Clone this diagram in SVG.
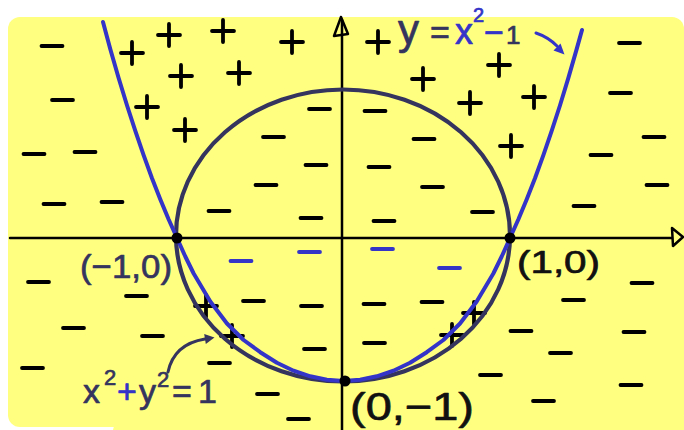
<svg xmlns="http://www.w3.org/2000/svg" width="684" height="430" viewBox="0 0 684 430">
<defs>
<style>
.bg{fill:#ffff80}
.ax{fill:none;stroke:#000;stroke-width:2.5;stroke-linecap:round;stroke-linejoin:round}
.sg{fill:none;stroke:#000;stroke-width:3.8;stroke-linecap:round}
.sgb{fill:none;stroke:#3535c8;stroke-width:3.8;stroke-linecap:round}
.circ{fill:none;stroke:#34345e;stroke-width:4.2}
.par{fill:none;stroke:#3434c8;stroke-width:4;stroke-linecap:round;stroke-linejoin:round}
.lbl{font-family:"Liberation Sans",Arial,sans-serif;stroke-linejoin:round;stroke-width:0.7}
.nv{fill:#34345e;stroke:#34345e}
.bl{fill:#3434c8;stroke:#3434c8}
.bk{fill:#111;stroke:#111}
.arn{fill:none;stroke:#34345e;stroke-width:3;stroke-linecap:round}
.arb{fill:none;stroke:#3434c8;stroke-width:3;stroke-linecap:round}
</style>
<path id="pl" d="M-11,0H11M0,-11V11"/>
<path id="mi" d="M-10.5,0H10.5"/>
</defs>

<g id="background">
<rect class="bg" x="8" y="17" width="676" height="410" rx="12"/>
<path class="bg" d="M122,416 L684,416 L684,430 L113,430 Q115,419 122,416 Z"/>
</g>

<g id="signs">
<g class="sg">
<use href="#mi" x="52" y="46"/><use href="#mi" x="62.5" y="100"/><use href="#mi" x="34" y="154"/><use href="#mi" x="85" y="152"/>
<use href="#mi" x="54" y="204"/><use href="#mi" x="112" y="202"/><use href="#mi" x="319.5" y="109"/><use href="#mi" x="273.5" y="137"/>
<use href="#mi" x="316" y="165"/><use href="#mi" x="266" y="185"/><use href="#mi" x="219" y="211"/>
<use href="#mi" x="629.5" y="43"/><use href="#mi" x="620.5" y="93"/><use href="#mi" x="654" y="137"/><use href="#mi" x="601" y="155"/>
<use href="#mi" x="657" y="185"/><use href="#mi" x="584" y="206"/><use href="#mi" x="375" y="111"/><use href="#mi" x="424" y="139"/>
<use href="#mi" x="379" y="167"/><use href="#mi" x="432.5" y="187"/><use href="#mi" x="482.5" y="212"/>
<use href="#mi" x="38.5" y="282"/><use href="#mi" x="136.5" y="296"/><use href="#mi" x="73.5" y="328"/><use href="#mi" x="152.5" y="336"/>
<use href="#mi" x="32.5" y="368"/><use href="#mi" x="219.5" y="363"/><use href="#mi" x="267.5" y="394"/><use href="#mi" x="298.5" y="419"/>
<use href="#mi" x="311" y="218"/><use href="#mi" x="253.5" y="301"/><use href="#mi" x="311.5" y="306"/><use href="#mi" x="314.5" y="349"/>
<use href="#mi" x="384" y="221"/><use href="#mi" x="374" y="304"/><use href="#mi" x="432" y="302"/><use href="#mi" x="374.5" y="343"/>
<use href="#mi" x="521" y="331"/><use href="#mi" x="573.5" y="300"/><use href="#mi" x="642" y="283"/><use href="#mi" x="634" y="332"/>
<use href="#mi" x="560.5" y="353"/><use href="#mi" x="490.5" y="375"/><use href="#mi" x="631" y="385"/><use href="#mi" x="543.5" y="401"/>
<use href="#pl" x="132" y="53"/><use href="#pl" x="169" y="35"/><use href="#pl" x="223" y="31"/><use href="#pl" x="292" y="42"/>
<use href="#pl" x="181" y="76"/><use href="#pl" x="239" y="73"/><use href="#pl" x="147" y="107"/><use href="#pl" x="185" y="130"/>
<use href="#pl" x="378" y="42"/><use href="#pl" x="423" y="79"/><use href="#pl" x="499" y="65"/><use href="#pl" x="470" y="103"/>
<use href="#pl" x="534" y="97"/><use href="#pl" x="511" y="146"/><use href="#pl" x="206" y="306"/><use href="#pl" x="232" y="336"/>
<use href="#pl" x="474" y="313"/><use href="#pl" x="452" y="335"/>
</g>
<g class="sgb">
<use href="#mi" x="241" y="261"/><use href="#mi" x="309.5" y="252"/><use href="#mi" x="382.5" y="249"/><use href="#mi" x="449.5" y="268"/>
</g>
</g>

<g id="axes">
<path class="ax" d="M10,238 H672"/>
<path class="ax" d="M672,228 L683,237 L673,246 Z"/>
<path class="ax" d="M342,430 V20"/>
<path class="ax" d="M341,17 L334,36 L348,34 Z"/>
</g>

<g id="curves">
<ellipse id="circle" class="circ" cx="343" cy="235.5" rx="167" ry="146"/>
<polyline id="parabola" class="par" points="103,22 110.4,49.4 118.7,78.2 127.05,105.5 135.4,131.2 143.7,155.4 152,178.2 160.35,199.5 168.7,219.5 177,238 185.3,256.5 193.65,273.5 210.3,301.5 226.95,323.5 243.6,340 260.25,352.2 276.9,362.8 293.55,370.7 310.2,376.3 326.85,379.8 343.5,381 360.15,379.8 376.8,376.3 393.45,370.7 410.1,362.8 426.75,352.2 443.4,340 460.05,323.5 476.7,301.5 493.35,273.5 501.7,256.5 510,238 518.3,219.5 526.65,199.5 535,178.2 543.3,155.4 551.6,131.2 559.95,105.5 568.3,78.2 576.6,49.4 582,30"/>
</g>

<g id="points">
<circle id="p-neg1-0" cx="177" cy="238" r="5.5"/>
<circle id="p-1-0" cx="510" cy="238" r="5.5"/>
<circle id="p-0-neg1" cx="345" cy="381" r="5.5"/>
</g>

<g id="connectors">
<path class="arb" d="M536,33 Q548,37 557,46"/>
<polygon fill="#3434c8" points="564.5,54.5 553.5,50.5 560.5,43.5"/>
<path class="arn" d="M168,372 Q174,344 205,339"/>
<polygon fill="#34345e" points="214.5,337.5 205.8,344 204.2,334"/>
</g>

<g id="label-parabola">
<text class="lbl" font-size="34" y="44"><tspan class="nv" x="398" font-size="42">y</tspan><tspan class="nv" x="430">=</tspan><tspan class="bl" x="455" font-size="36">x</tspan><tspan class="bl" x="473" y="22" font-size="20">2</tspan><tspan class="bl" x="484" y="44">−</tspan><tspan class="nv" x="506" font-size="26">1</tspan></text>
</g>
<g id="label-circle">
<text class="lbl" font-size="34" y="403"><tspan class="nv" x="83">x</tspan><tspan class="nv" x="104" y="385" font-size="22">2</tspan><tspan class="bl" x="117" y="403">+</tspan><tspan class="nv" x="139">y</tspan><tspan class="nv" x="157" y="387" font-size="22">2</tspan><tspan class="nv" x="172" y="403">=</tspan><tspan class="nv" x="198">1</tspan></text>
</g>
<g id="label-neg1-0">
<text class="lbl nv" font-size="34" x="80" y="278" textLength="92" lengthAdjust="spacingAndGlyphs">(−1,0)</text>
</g>
<g id="label-1-0">
<text class="lbl bk" font-size="32" x="517" y="273" textLength="83" lengthAdjust="spacingAndGlyphs">(1,0)</text>
</g>
<g id="label-0-neg1">
<text class="lbl bk" font-size="39" x="350" y="420" textLength="124" lengthAdjust="spacingAndGlyphs">(0,−1)</text>
</g>
</svg>
